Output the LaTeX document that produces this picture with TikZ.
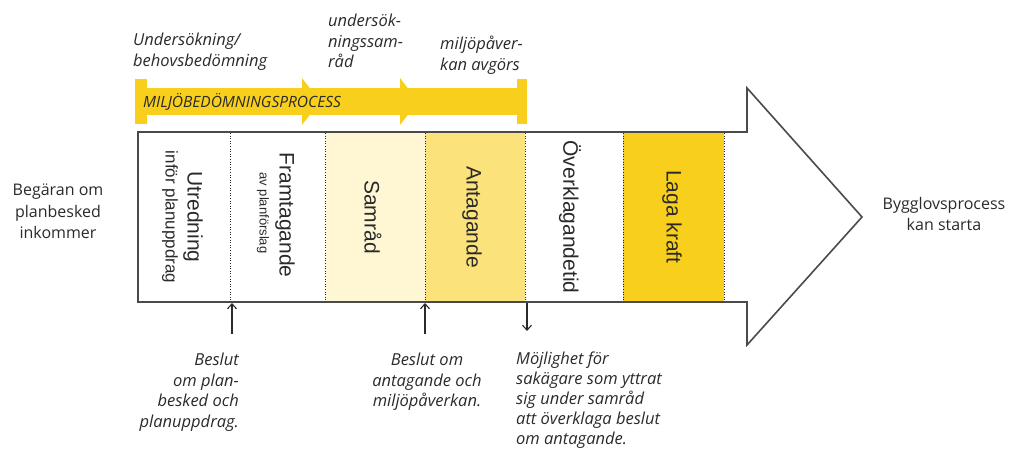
\documentclass[tikz,border=0pt]{standalone}
\usepackage{fontspec}
\setmainfont{Liberation Sans}
\newfontfamily\labfont{Open Sans}
\usetikzlibrary{arrows.meta}
\definecolor{gold}{HTML}{F8CF1C}
\definecolor{paleyel}{HTML}{FFF7D4}
\definecolor{midyel}{HTML}{FBE27A}
\definecolor{linegray}{HTML}{4A4A4A}
\definecolor{txtgray}{HTML}{2A2A2A}
\begin{document}
\begin{tikzpicture}[x=1pt,y=-1pt,
  outline/.style={draw=linegray,line width=1.6pt,line join=miter},
  divider/.style={draw=txtgray,line width=1pt,dash pattern=on 1pt off 1.6pt},
  phase/.style={rotate=-90,inner sep=0pt,text=txtgray,font=\fontsize{21}{22}\selectfont},
  subphase/.style={rotate=-90,inner sep=0pt,text=txtgray},
  itlab/.style={inner sep=0pt,text=txtgray,font=\labfont\itshape\fontsize{16.5}{20.5}\selectfont},
  sidelab/.style={inner sep=0pt,text=txtgray,align=center,font=\labfont\fontsize{16}{21.5}\selectfont},
  decarrow/.style={draw=txtgray,line width=1.1pt,-{Straight Barb[length=5pt,width=9pt]}}
]
\useasboundingbox (0,0) rectangle (1010,450);
% coloured phases
\fill[paleyel] (325,132) rectangle (425,302);
\fill[midyel] (425,132) rectangle (525,302);
\fill[gold] (623,132) rectangle (724,302);
% dividers
\foreach \xx in {230,325,425,525,623,724}{
  \draw[divider] (\xx,133) -- (\xx,301);
}
% big arrow outline
\draw[outline] (138,132) -- (747,132) -- (747,88) -- (862,217) -- (747,345) -- (747,302) -- (138,302) -- cycle;
% yellow process bar
\fill[gold] (135,88) rectangle (527,115);
\fill[gold] (135,79) rectangle (147,124);
\fill[gold] (517,79) rectangle (527,124);
\fill[gold] (302,78) -- (320,101.5) -- (302,125) -- cycle;
\fill[gold] (400,78) -- (418,101.5) -- (400,125) -- cycle;
\node[inner sep=0pt,anchor=west,text=txtgray,font=\labfont\itshape\fontsize{15.5}{16}\selectfont] (mbp) at (143,101.5) {MILJÖBEDÖMNINGSPROCESS};
% phase labels
\node[phase] (utr) at (193,217) {Utredning};
\node[subphase,font=\fontsize{17}{18}\selectfont] (utr2) at (170,217) {inför planuppdrag};
\node[phase] (fra) at (285,215) {Framtagande};
\node[subphase,font=\fontsize{13}{14}\selectfont] (fra2) at (263,213) {av planförslag};
\node[phase] (sam) at (373,217) {Samråd};
\node[phase] (ant) at (472,217) {Antagande};
\node[phase] (ovk) at (570,217) {Överklagandetid};
\node[phase] (lag) at (672,217) {Laga kraft};
% side labels
\node[sidelab,anchor=north] (beg) at (58,184) {Begäran om\\planbesked\\inkommer};
\node[sidelab,anchor=north] (byg) at (944,197) {Bygglovsprocess\\kan starta};
% top labels
\node[itlab,align=left,anchor=north west] (t1) at (133,33) {Undersökning/\\behovsbedömning};
\node[itlab,align=left,anchor=north west] (t2) at (328,14) {undersök-\\ningssam-\\råd};
\node[itlab,align=left,anchor=north west] (t3) at (440,36) {miljöpåver-\\kan avgörs};
% bottom labels
\node[itlab,align=right,anchor=north east] (b1) at (239,353) {Beslut\\om plan-\\besked och\\planuppdrag.};
\node[itlab,align=center,anchor=north] (b2) at (427,353) {Beslut om\\antagande och\\miljöpåverkan.};
\node[itlab,align=left,anchor=north west,font=\labfont\itshape\fontsize{16.5}{19.8}\selectfont] (b3) at (516,352) {Möjlighet för\\sakägare som yttrat\\sig under samråd\\att överklaga beslut\\om antagande.};
% decision arrows
\coordinate (a1s) at (232,334);
\coordinate (a1e) at (232,303);
\coordinate (a2s) at (425,334);
\coordinate (a2e) at (425,303);
\coordinate (a3s) at (527,303);
\coordinate (a3e) at (527,331);
\draw[decarrow] (a1s) -- (a1e);
\draw[decarrow] (a2s) -- (a2e);
\draw[decarrow] (a3s) -- (a3e);
\end{tikzpicture}
\end{document}
